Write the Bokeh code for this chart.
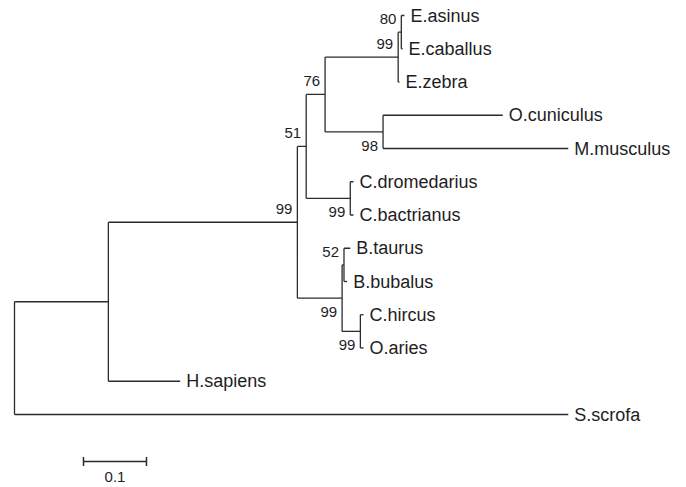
from bokeh.plotting import figure
from bokeh.models import Range1d, ColumnDataSource
from bokeh.embed import file_html
from bokeh.resources import INLINE
from bokeh.core.properties import value

# ---- tree data (parents listed before children) ----
nodes = ["root", "A", "S.scrofa", "H.sapiens", "B", "N51", "N76", "Neq", "N80",
         "E.asinus", "E.caballus", "E.zebra", "N98", "O.cuniculus", "M.musculus",
         "Ncam", "C.dromedarius", "C.bactrianus", "Nbov", "N52", "B.taurus",
         "B.bubalus", "Ncap", "C.hircus", "O.aries"]
parents = [None, "root", "root", "A", "A", "B", "N51", "N76", "Neq",
           "N80", "N80", "Neq", "N76", "N98", "N98",
           "N51", "Ncam", "Ncam", "B", "Nbov", "N52",
           "N52", "Nbov", "Ncap", "Ncap"]
branch_lengths = [0.0, 0.149, 0.879, 0.114, 0.300, 0.014, 0.030, 0.116, 0.005,
                  0.005, 0.002, 0.002, 0.092, 0.190, 0.294,
                  0.070, 0.005, 0.005, 0.071, 0.003, 0.010,
                  0.005, 0.029, 0.005, 0.005]
leaf_order = ["E.asinus", "E.caballus", "E.zebra", "O.cuniculus", "M.musculus",
              "C.dromedarius", "C.bactrianus", "B.taurus", "B.bubalus",
              "C.hircus", "O.aries", "H.sapiens", "S.scrofa"]
bootstrap_nodes = ["N80", "Neq", "N76", "N51", "B", "N98", "Ncam", "N52", "Nbov", "Ncap"]
bootstrap_values = ["80", "99", "76", "51", "99", "98", "99", "52", "99", "99"]
bootstrap_side = ["above", "above", "above", "above", "above",
                  "below", "below", "above", "below", "below"]
scale_bar_length = 0.1
scale_bar_label = "0.1"

# ---- layout computation ----
par = dict(zip(nodes, parents))
bl = dict(zip(nodes, branch_lengths))
children = {n: [] for n in nodes}
for n, pa in par.items():
    if pa is not None:
        children[pa].append(n)
depth = {}
for n in nodes:
    depth[n] = bl[n] + (depth[par[n]] if par[n] is not None else 0.0)

ypos = {}
def get_y(n):
    if n in ypos:
        return ypos[n]
    if not children[n]:
        ypos[n] = float(leaf_order.index(n))
    else:
        ys = [get_y(c) for c in children[n]]
        ypos[n] = (min(ys) + max(ys)) / 2.0
    return ypos[n]
for n in nodes:
    get_y(n)

x0, x1, y0, y1 = [], [], [], []
for n in nodes:
    if par[n] is not None:
        x0.append(depth[par[n]]); x1.append(depth[n]); y0.append(ypos[n]); y1.append(ypos[n])
    if children[n]:
        ys = [ypos[c] for c in children[n]]
        x0.append(depth[n]); x1.append(depth[n]); y0.append(min(ys)); y1.append(max(ys))

PX = 630.0   # pixels per unit branch length
ROWPX = 33.25
W, H = 686, 487
LEFT, TOP = 14.0, 15.0
xr = Range1d(-LEFT / PX, (W - LEFT) / PX)
yr = Range1d(start=(H - TOP) / ROWPX, end=-TOP / ROWPX)

p = figure(width=W, height=H, x_range=xr, y_range=yr, output_backend="svg",
           toolbar_location=None, min_border=0)
p.axis.visible = False
p.xgrid.visible = False
p.ygrid.visible = False
p.outline_line_color = None
p.background_fill_color = "white"

line_color = "#2b2b2b"
p.segment(x0=x0, y0=y0, x1=x1, y1=y1, line_color=line_color, line_width=1.3)

font = value("Liberation Sans")
text_color = "#1e1e1e"

# leaf labels
leaf_src = ColumnDataSource(dict(x=[depth[n] for n in leaf_order],
                                 y=[ypos[n] for n in leaf_order],
                                 t=leaf_order))
p.text(x="x", y="y", text="t", source=leaf_src, x_offset=6, text_baseline="middle",
       text_align="left", text_font=font, text_font_size="18px", text_color=text_color)

# bootstrap labels
bs_src = ColumnDataSource(dict(x=[depth[n] for n in bootstrap_nodes],
                               y=[ypos[n] for n in bootstrap_nodes],
                               t=bootstrap_values,
                               yo=[-13 if s == "above" else 14 for s in bootstrap_side]))
p.text(x="x", y="y", text="t", source=bs_src, x_offset=-5, y_offset="yo",
       text_baseline="middle", text_align="right", text_font=font,
       text_font_size="15px", text_color=text_color)

# scale bar
sb_x = 0.1095
sb_y = 13.41
cap = 4.5 / ROWPX
p.segment(x0=[sb_x, sb_x, sb_x + scale_bar_length],
          y0=[sb_y, sb_y - cap, sb_y - cap],
          x1=[sb_x + scale_bar_length, sb_x, sb_x + scale_bar_length],
          y1=[sb_y, sb_y + cap, sb_y + cap],
          line_color=line_color, line_width=1.5)
p.text(x=[sb_x + scale_bar_length / 2], y=[sb_y], text=[scale_bar_label], y_offset=16,
       text_baseline="middle", text_align="center", text_font=font,
       text_font_size="15px", text_color=text_color)

open("out.html", "w").write(file_html(p, INLINE))
